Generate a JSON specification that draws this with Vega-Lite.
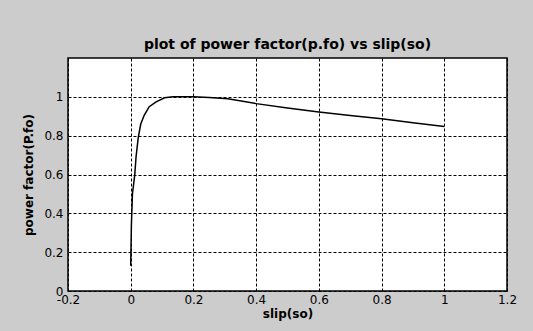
{
  "$schema": "https://vega.github.io/schema/vega-lite/v6.json",
  "width": 439,
  "height": 233,
  "autosize": {"type": "none"},
  "padding": {"left": 68, "top": 58, "right": 26, "bottom": 40},
  "background": "#cccccc",
  "title": {
    "text": "plot of power factor(p.fo) vs slip(so)",
    "font": "DejaVu Sans",
    "fontSize": 14,
    "fontWeight": "bold",
    "color": "black",
    "offset": 6,
    "anchor": "middle"
  },
  "config": {
    "view": {"fill": "white", "stroke": "black", "strokeWidth": 1.5},
    "axis": {
      "labelFont": "DejaVu Sans",
      "labelFontSize": 12,
      "labelColor": "black",
      "titleFont": "DejaVu Sans",
      "titleFontSize": 12,
      "titleFontWeight": "bold",
      "titleColor": "black",
      "grid": true,
      "gridColor": "black",
      "gridDash": [3, 2],
      "gridWidth": 1,
      "gridOpacity": 1,
      "ticks": false,
      "domain": false
    }
  },
  "data": {
    "values": [
      {"s": 0.0, "pf": 0.13},
      {"s": 0.002, "pf": 0.33},
      {"s": 0.0055, "pf": 0.5},
      {"s": 0.013, "pf": 0.6},
      {"s": 0.017, "pf": 0.69},
      {"s": 0.024, "pf": 0.79},
      {"s": 0.032, "pf": 0.86},
      {"s": 0.043, "pf": 0.905},
      {"s": 0.059, "pf": 0.949},
      {"s": 0.081, "pf": 0.974},
      {"s": 0.108, "pf": 0.995},
      {"s": 0.135, "pf": 1.0},
      {"s": 0.2, "pf": 1.0},
      {"s": 0.25, "pf": 0.997},
      {"s": 0.31, "pf": 0.99},
      {"s": 0.4, "pf": 0.965},
      {"s": 0.5, "pf": 0.943},
      {"s": 0.6, "pf": 0.922},
      {"s": 0.7, "pf": 0.904},
      {"s": 0.8, "pf": 0.887},
      {"s": 0.9, "pf": 0.866},
      {"s": 1.0, "pf": 0.847}
    ]
  },
  "mark": {"type": "line", "color": "black", "strokeWidth": 1.5, "clip": true},
  "encoding": {
    "x": {
      "field": "s",
      "type": "quantitative",
      "scale": {"domain": [-0.2, 1.2], "nice": false, "zero": false},
      "axis": {
        "title": "slip(so)",
        "values": [-0.2, 0, 0.2, 0.4, 0.6, 0.8, 1, 1.2],
        "labelExpr": "datum.value + ''",
        "labelPadding": 3,
        "titlePadding": 3,
        "labelFlush": false
      }
    },
    "y": {
      "field": "pf",
      "type": "quantitative",
      "scale": {"domain": [0, 1.2], "nice": false},
      "axis": {
        "title": "power factor(P.fo)",
        "values": [0, 0.2, 0.4, 0.6, 0.8, 1],
        "labelExpr": "datum.value + ''",
        "labelPadding": 5,
        "titlePadding": 8,
        "labelFlush": false
      }
    }
  }
}
